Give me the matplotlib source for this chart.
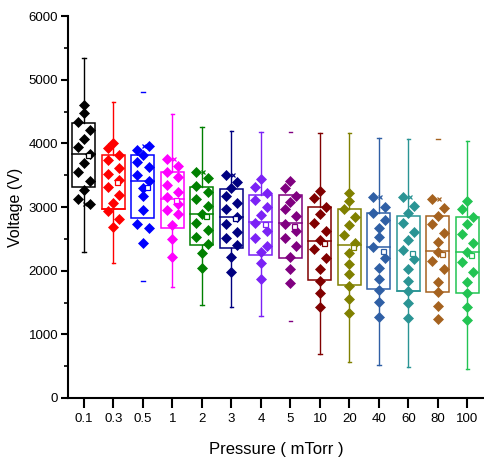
import numpy as np
import matplotlib
matplotlib.use("Agg")
import matplotlib.pyplot as plt

plt.rcParams['font.family'] = ['Liberation Sans', 'DejaVu Sans']

# pressure categories (mTorr)
pressures = ['0.1', '0.3', '0.5', '1', '2', '3', '4', '5', '10', '20', '40', '60', '80', '100']

# breakdown voltage readings (V) for every pressure
v_01 = [4603, 4472, 4341, 4210, 4069, 3948, 3833, 3687, 3546, 3414, 3268, 3126, 3048]
v_03 = [4011, 3922, 3812, 3739, 3618, 3514, 3424, 3320, 3189, 3069, 2943, 2812, 2682]
v_05 = [3959, 3896, 3817, 3712, 3624, 3503, 3414, 3294, 3173, 2954, 2729, 2676, 2440]
v_1 = [3749, 3645, 3556, 3477, 3346, 3241, 3153, 3048, 2954, 2886, 2718, 2503, 2220]
v_2 = [3556, 3451, 3335, 3241, 3131, 3011, 2897, 2745, 2639, 2524, 2419, 2273, 2047]
v_3 = [3497, 3388, 3294, 3173, 3069, 2964, 2843, 2729, 2613, 2509, 2404, 2210, 1984]
v_4 = [3435, 3320, 3215, 3111, 2996, 2875, 2745, 2629, 2509, 2393, 2289, 2116, 1875]
v_5 = [3409, 3294, 3178, 3084, 2964, 2859, 2734, 2624, 2509, 2393, 2220, 2022, 1802]
v_10 = [3257, 3137, 3006, 2891, 2755, 2629, 2482, 2346, 2195, 2027, 1843, 1654, 1434]
v_20 = [3215, 3095, 2969, 2839, 2718, 2561, 2430, 2273, 2105, 1943, 1759, 1550, 1340]
v_40 = [3163, 3006, 2912, 2797, 2666, 2534, 2377, 2205, 2037, 1864, 1697, 1508, 1277]
v_60 = [3151, 3016, 2901, 2745, 2613, 2482, 2325, 2179, 2022, 1843, 1681, 1487, 1262]
v_80 = [3120, 2980, 2859, 2729, 2598, 2446, 2299, 2157, 2027, 1818, 1660, 1450, 1241]
v_100 = [3095, 2964, 2848, 2729, 2571, 2430, 2289, 2142, 1984, 1818, 1645, 1434, 1225]
voltages = [v_01, v_03, v_05, v_1, v_2, v_3, v_4, v_5, v_10, v_20, v_40, v_60, v_80, v_100]

# box statistics as drawn in the original chart
q1 = [3315, 2964, 2823, 2666, 2404, 2352, 2247, 2205, 1854, 1775, 1708, 1681, 1660, 1654]
median = [3828, 2964, 3414, 3131, 2886, 2843, 2760, 2745, 2472, 2409, 2377, 1681, 2309, 2289]
q3 = [4316, 3812, 3812, 3546, 3320, 3283, 3189, 3189, 3006, 2969, 2901, 2864, 2864, 2848]
whisker_low = [2294, 2126, 1844, 1749, 1456, 1425, 1288, 1215, 691, 570, 518, 492, np.nan, 451]
whisker_high = [5336, 4655, 4802, 4462, 4262, 4200, 4174, 4185, 4168, 4168, 4090, 4074, 4063, 4042]
# 1% / 99% marks (x)
cross_vals = [3048, np.nan, 3959, 3749, 3556, 3497, np.nan, np.nan, np.nan, np.nan, 3163, 3151, 3120, np.nan]

# styling
colors = ['#000000', '#FF0000', '#0000FF', '#FF00FF', '#008000', '#000080', '#7B22F5',
          '#800080', '#800000', '#808000', '#2F5FA5', '#2A9494', '#A5621F', '#22C452']
whisker_line = [True, True, False, True, True, True, True, False, True, True, True, True, False, True]
layout = ["CCLRCLRCLRCLR", "CLRLRLRLRCLRC", "RLCLRLRCCCLRC", "LRLRLRLRLRCCC",
          "LRLRLRCLRLRCC", "LRCLRLRLRLRCC", "CLRLRCLRLRCCC", "CLRCLRLRLRCCC",
          "CLRCLRCLRCCCC", "CCLRCLRCCCCCC", "LRLRCCLRCCCCC", "LRCLRCLRCCCCC",
          "LRCLRCCLRCCCC", "CLRCLRCLRCCCC"]
shift = {'L': -0.2, 'C': 0.0, 'R': 0.2}
box_w = 0.78
cap_w = 0.06

fig = plt.figure(figsize=(4.84, 4.68), dpi=100)
ax = fig.add_axes([0.1405, 0.1496, 0.8595, 0.816])

for i, vals in enumerate(voltages):
    c = colors[i]
    # box
    ax.add_patch(plt.Rectangle((i - box_w / 2, q1[i]), box_w, q3[i] - q1[i],
                               fill=False, edgecolor=c, lw=1.1, zorder=2))
    ax.plot([i - box_w / 2, i + box_w / 2], [median[i], median[i]], color=c, lw=1.1, zorder=2)
    # whiskers
    if whisker_line[i]:
        ax.plot([i, i], [q3[i], whisker_high[i]], color=c, lw=1.0, zorder=1)
        ax.plot([i, i], [q1[i], whisker_low[i]], color=c, lw=1.0, zorder=1)
    for w in (whisker_low[i], whisker_high[i]):
        if not np.isnan(w):
            ax.plot([i - cap_w, i + cap_w], [w, w], color=c, lw=1.0, zorder=1)
    # data overlay
    xs = [i + shift[k] for k in layout[i]]
    ax.plot(xs, vals, 'D', color=c, ms=5.2, mew=0.5, mec=c, zorder=3)
    # mean
    ax.plot(i + 0.12, np.mean(vals), 's', ms=3.6, mfc='white', mec=c, mew=0.9, zorder=4)
    if not np.isnan(cross_vals[i]):
        ax.plot(i + 0.05, cross_vals[i], 'x', ms=3.5, color=c, mew=0.9, zorder=4)

ax.set_xlim(-0.542, 13.56)
ax.set_ylim(0, 6000)
ax.set_xticks(range(len(pressures)))
ax.set_xticklabels(pressures)
ax.set_yticks(range(0, 6001, 1000))
ax.set_yticks(range(500, 6000, 1000), minor=True)

for s in ['top', 'right']:
    ax.spines[s].set_visible(False)
for s in ['left', 'bottom']:
    ax.spines[s].set_linewidth(1.5)

ax.tick_params(axis='both', which='major', direction='out', width=1.5, labelsize=9.5)
ax.tick_params(axis='y', which='major', length=5, pad=2)
ax.tick_params(axis='y', which='minor', length=3, width=1.2)
ax.tick_params(axis='x', which='major', length=7, pad=4)

ax.set_xlabel('Pressure ( mTorr )', fontsize=12, labelpad=12)
ax.set_ylabel('Voltage (V)', fontsize=11.5, labelpad=4)

fig.savefig('out.png', dpi=100)
